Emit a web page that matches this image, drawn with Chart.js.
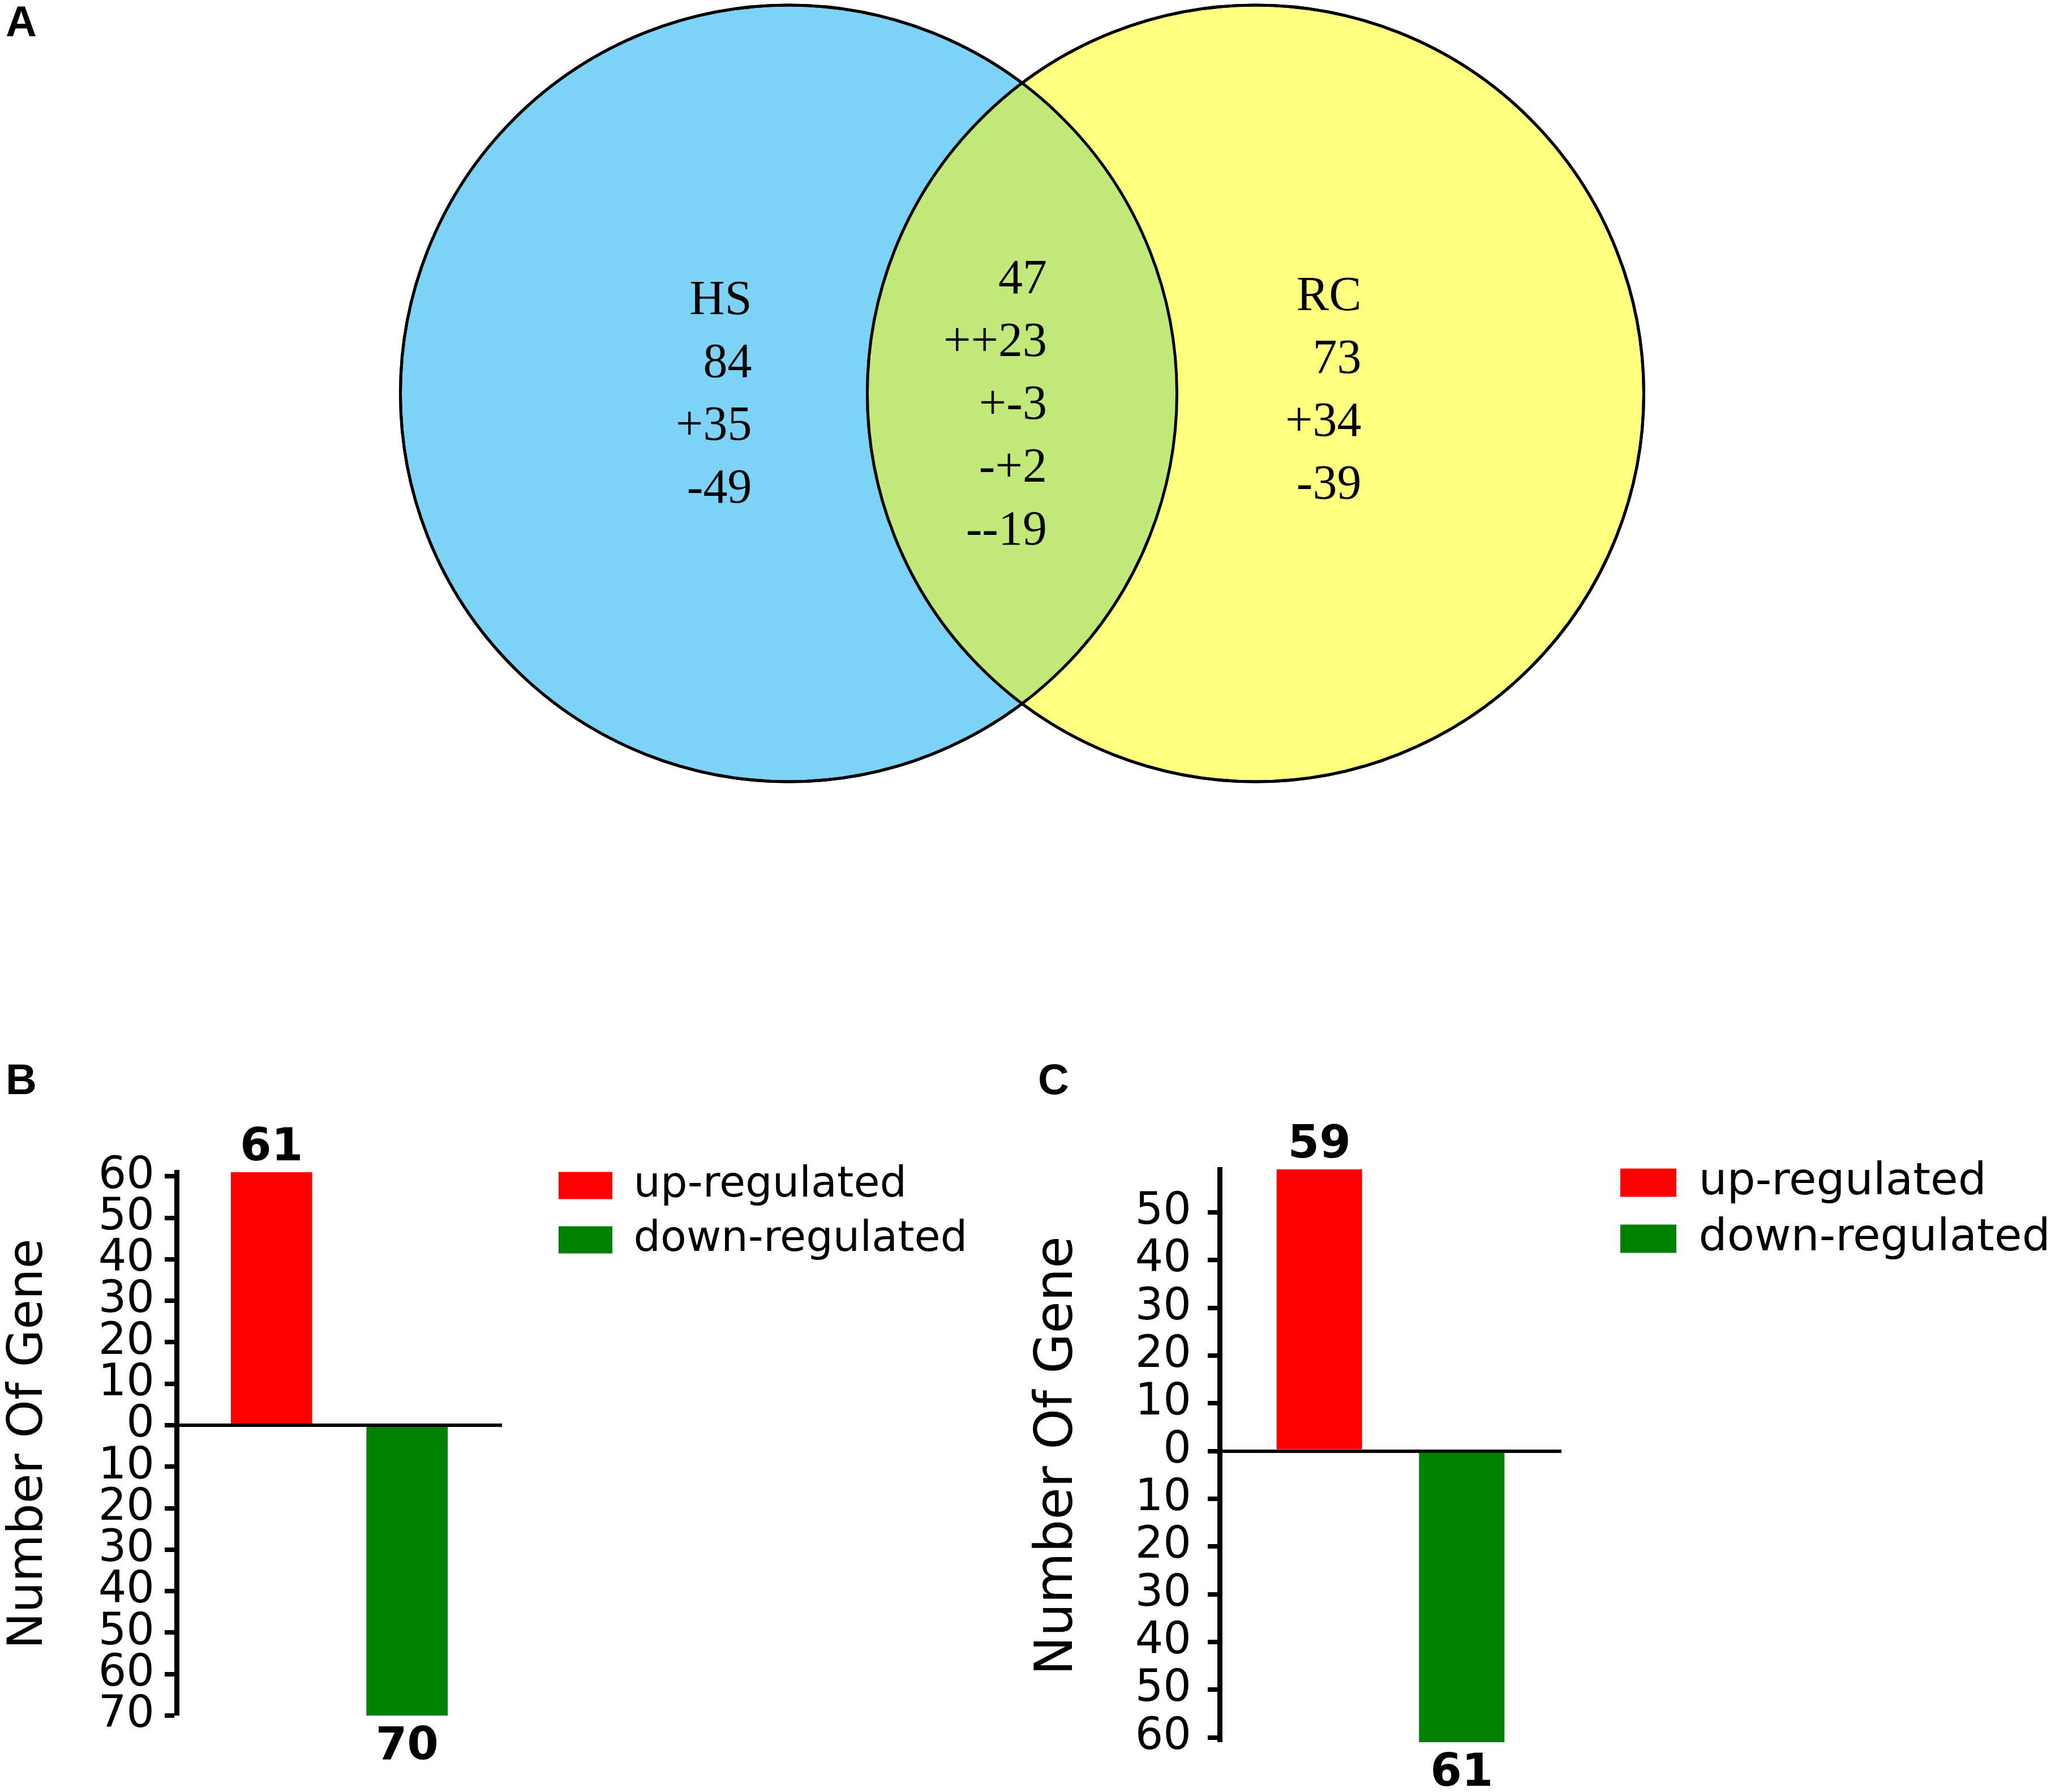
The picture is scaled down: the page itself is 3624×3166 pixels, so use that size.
<!DOCTYPE html>
<html>
<head>
<meta charset="utf-8">
<script src="https://cdn.jsdelivr.net/npm/chart.js@4.4.1/dist/chart.umd.min.js"></script>
<style>
  html, body { margin: 0; padding: 0; background: #fff; }
  body { width: 3624px; height: 3166px; position: relative; overflow: hidden; }
  .panel { position: absolute; font: bold 76px 'Liberation Sans', Arial, sans-serif; line-height: 1; color: #000; }
  .box { position: absolute; }
</style>
</head>
<body>
<div class="panel" style="left:10px;top:0px">A</div>
<div class="panel" style="left:10px;top:1869px">B</div>
<div class="panel" style="left:1834px;top:1869px">C</div>
<div class="box" style="left:700px;top:0;width:2212px;height:1390px"><canvas id="venn"></canvas></div>
<div class="box" style="left:0;top:1950px;width:1800px;height:1216px"><canvas id="barB"></canvas></div>
<div class="box" style="left:1800px;top:1950px;width:1824px;height:1216px"><canvas id="barC"></canvas></div>
<script>
// Venn counts (panel A)
const vennSets = ['HS', 'RC'];
const vennOnlyTotal = [84, 73];
const vennOnlyUp = [35, 34];
const vennOnlyDown = [49, 39];
const vennSharedTotal = 47;
const vennSharedSigns = ['++', '+-', '-+', '--'];
const vennSharedCounts = [23, 3, 2, 19];

// up / down regulated genes (panels B and C)
const regulation = ['up-regulated', 'down-regulated'];
const hsCounts = [61, 70];
const rcCounts = [59, 61];
const hsAxis = [-70, 61];
const rcAxis = [-61, 59];
const hsTicks = [-70, -60, -50, -40, -30, -20, -10, 0, 10, 20, 30, 40, 50, 60];
const rcTicks = [-60, -50, -40, -30, -20, -10, 0, 10, 20, 30, 40, 50];

// layout of the venn circles, in axis units
const VENN = { half: 0.5, radius: 0.8315, xSpan: 1.3406, ySpan: 0.8424 };
const regulationColors = ['#ff0000', '#008000'];

// overlap fill, outlines and the numbers of the venn
const vennDecor = {
  id: 'vennDecor',
  afterDatasetsDraw(chart) {
    const [hs, rc] = chart.getDatasetMeta(0).data;
    const ctx = chart.ctx;
    const circle = el => { ctx.beginPath(); ctx.arc(el.x, el.y, el.options.radius, 0, Math.PI * 2); };
    ctx.save();
    circle(hs);
    ctx.clip();
    circle(rc);
    ctx.fillStyle = '#c2e87a';
    ctx.fill();
    ctx.restore();

    ctx.save();
    ctx.lineWidth = 5;
    ctx.strokeStyle = '#000';
    circle(hs); ctx.stroke();
    circle(rc); ctx.stroke();

    ctx.font = '86px "Liberation Serif", "Times New Roman", serif';
    ctx.fillStyle = '#000';
    ctx.textAlign = 'right';
    ctx.textBaseline = 'middle';
    const block = (lines, x, y) => lines.forEach((t, k) => ctx.fillText(String(t), x, y + k * 111));
    block([vennSets[0], vennOnlyTotal[0], '+' + vennOnlyUp[0], '-' + vennOnlyDown[0]], hs.x - 65, hs.y - 163);
    block([vennSharedTotal].concat(vennSharedSigns.map((s, i) => s + vennSharedCounts[i])),
      (hs.x + rc.x) / 2 + 44, hs.y - 200);
    block([vennSets[1], vennOnlyTotal[1], '+' + vennOnlyUp[1], '-' + vennOnlyDown[1]], rc.x + 187, rc.y - 170);
    ctx.restore();
  }
};

const vennChart = new Chart(document.getElementById('venn'), {
  type: 'bubble',
  data: {
    labels: vennSets,
    datasets: [{
      data: vennSets.map((s, i) => ({ x: i === 0 ? -VENN.half : VENN.half, y: 0 })),
      backgroundColor: ['#7dd3f5', '#ffff7f'],
      borderColor: '#000',
      borderWidth: 5,
      clip: false
    }]
  },
  options: {
    responsive: true,
    maintainAspectRatio: false,
    animation: false,
    events: [],
    devicePixelRatio: 1,
    layout: { padding: 0, autoPadding: false },
    scales: {
      x: { type: 'linear', display: false, min: -VENN.xSpan, max: VENN.xSpan },
      y: { type: 'linear', display: false, min: -VENN.ySpan, max: VENN.ySpan }
    },
    plugins: { legend: { display: false }, tooltip: { enabled: false } }
  },
  plugins: [vennDecor]
});
// bubble radius is in pixels: convert the circle radius through the x scale
const sx = vennChart.scales.x;
const rPx = sx.getPixelForValue(VENN.radius) - sx.getPixelForValue(0);
vennChart.data.datasets[0].data = vennChart.data.datasets[0].data.map(p => ({ x: p.x, y: p.y, r: rPx }));
vennChart.update();

// move the legend next to the plot area
const legendOffset = {
  id: 'legendOffset',
  afterLayout(chart, args, o) {
    const lg = chart.legend, a = chart.chartArea;
    lg.left = a.right + o.dx;
    lg.right = lg.left + lg.width;
    lg.top = a.top + o.dy;
    lg.bottom = lg.top + lg.height;
  }
};

// bold counts above / below the bars
const barValues = {
  id: 'barValues',
  afterDatasetsDraw(chart) {
    const ctx = chart.ctx;
    ctx.save();
    ctx.font = 'bold 80px "DejaVu Sans"';
    ctx.fillStyle = '#000';
    ctx.textAlign = 'center';
    ctx.textBaseline = 'alphabetic';
    chart.data.datasets.forEach((ds, i) => {
      chart.getDatasetMeta(i).data.forEach((bar, j) => {
        const v = ds.data[j].y;
        const y = v >= 0 ? bar.y - 21 : bar.y + 19 + 58;
        ctx.fillText(String(Math.abs(v)), bar.x, y);
      });
    });
    ctx.restore();
  }
};

function regulationChart(id, counts, range, ticks, o) {
  return new Chart(document.getElementById(id), {
    type: 'bar',
    data: {
      datasets: regulation.map((name, i) => ({
        label: name,
        data: [{ x: i, y: i === 0 ? counts[i] : -counts[i] }],
        backgroundColor: regulationColors[i],
        borderWidth: 0,
        barPercentage: 0.6,
        categoryPercentage: 1,
        grouped: false
      }))
    },
    options: {
      responsive: true,
      maintainAspectRatio: false,
      animation: false,
      events: [],
      devicePixelRatio: 1,
      layout: { padding: o.padding },
      scales: {
        x: {
          type: 'linear', display: false, offset: false, min: -0.7, max: 1.7,
          afterBuildTicks: s => { s.ticks = regulation.map((n, i) => ({ value: i })); }
        },
        y: {
          min: range[0],
          max: range[1],
          z: 1,
          afterBuildTicks: s => { s.ticks = ticks.map(value => ({ value })); },
          afterFit: s => { s.width = o.axisWidth; },
          border: { display: true, color: '#000', width: 9 },
          grid: {
            color: c => (c.tick && c.tick.value === 0 ? '#000' : 'rgba(0,0,0,0)'),
            lineWidth: c => (c.tick && c.tick.value === 0 ? 6 : 0),
            tickColor: '#000',
            tickWidth: 8,
            tickLength: 21
          },
          ticks: {
            autoSkip: false,
            padding: o.tickPad,
            color: '#000',
            font: { family: 'DejaVu Sans', size: 78, lineHeight: 1 },
            callback: v => Math.abs(v)
          },
          title: {
            display: true,
            text: 'Number Of Gene',
            color: '#000',
            font: { family: 'DejaVu Sans', size: o.titleSize },
            padding: { top: o.titleTop, bottom: 0 }
          }
        }
      },
      plugins: {
        legend: {
          position: 'chartArea',
          align: 'start',
          maxWidth: 1200,
          labels: {
            boxWidth: o.box[0],
            boxHeight: o.box[1],
            padding: o.legendPad,
            color: '#000',
            font: { family: 'DejaVu Sans', size: o.legendSize }
          }
        },
        tooltip: { enabled: false },
        legendOffset: { dx: o.dx, dy: o.dy }
      }
    },
    plugins: [legendOffset, barValues]
  });
}

regulationChart('barB', hsCounts, hsAxis, hsTicks, {
  padding: { top: 121, bottom: 135, left: 0, right: 913 },
  axisWidth: 312, tickPad: 18, titleSize: 86, titleTop: 0,
  box: [95, 48], legendSize: 75, legendPad: 21, dx: 79, dy: -35
});
regulationChart('barC', rcCounts, rcAxis, rcTicks, {
  padding: { top: 116, bottom: 88, left: 0, right: 865 },
  axisWidth: 355, tickPad: 29, titleSize: 92, titleTop: 15,
  box: [99, 50], legendSize: 79, legendPad: 20, dx: 84, dy: -36
});
</script>
</body>
</html>
